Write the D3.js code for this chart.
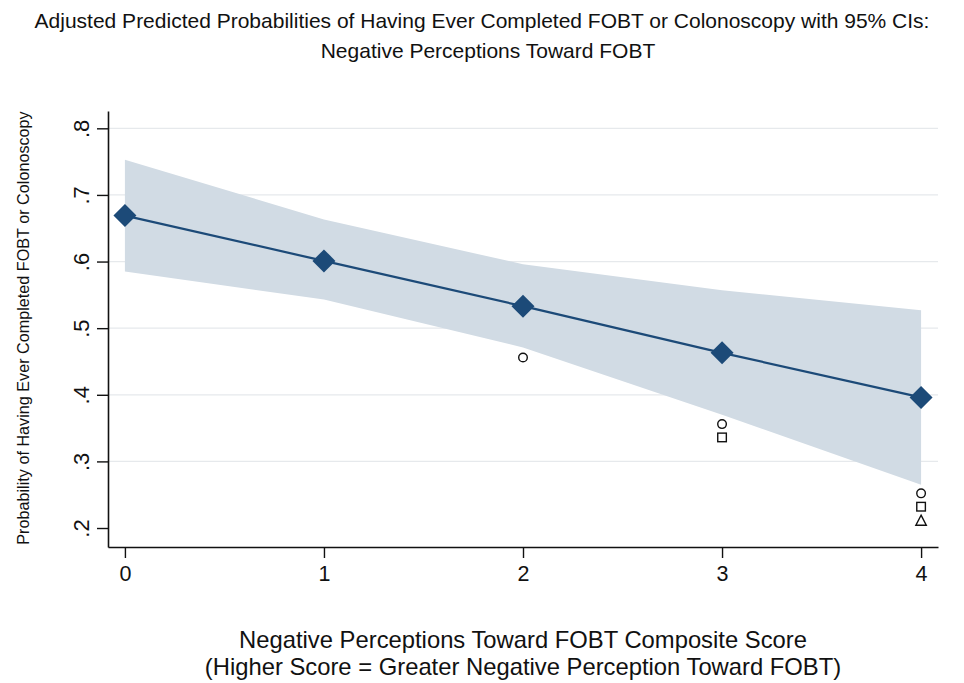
<!DOCTYPE html>
<html><head><meta charset="utf-8">
<script src="https://cdn.jsdelivr.net/npm/d3@7"></script>
<style>body{margin:0;background:#fff;} svg{display:block;font-family:"Liberation Sans",Arial,sans-serif;}</style>
</head><body>
<svg id="chart" width="964" height="683"></svg>
<script>
const scores = [0, 1, 2, 3, 4];
const predicted = [0.669, 0.601, 0.533, 0.463, 0.396];
const ciUpper = [0.753, 0.663, 0.596, 0.557, 0.527];
const ciLower = [0.585, 0.543, 0.471, 0.370, 0.265];
const obsCircle = [{x:2,y:0.456},{x:3,y:0.356},{x:4,y:0.252}];
const obsSquare = [{x:3,y:0.336},{x:4,y:0.232}];
const obsTriangle = [{x:4,y:0.211}];
const yTicks = [0.2, 0.3, 0.4, 0.5, 0.6, 0.7, 0.8];
const yTickLabels = [".2", ".3", ".4", ".5", ".6", ".7", ".8"];
const xTicks = [0, 1, 2, 3, 4];

(function(){
const svg = d3.select("#chart");
const pLeft = 108, pRight = 938, pTop = 111, pBottom = 547;
const x = d3.scaleLinear().domain([-0.085, 4.085]).range([pLeft, pRight]);
const y = d3.scaleLinear().domain([0.1715, 0.826]).range([pBottom, pTop]);

// gridlines
svg.append("g").selectAll("line").data(yTicks.filter(d => d > 0.2)).join("line")
  .attr("x1", pLeft).attr("x2", pRight)
  .attr("y1", d => y(d)).attr("y2", d => y(d))
  .attr("stroke", "#e6e9ec").attr("stroke-width", 1.2);

// CI band
const band = scores.map((s, i) => ({x: s, lo: ciLower[i], hi: ciUpper[i]}));
svg.append("path").datum(band)
  .attr("d", d3.area().x(d => x(d.x)).y0(d => y(d.lo)).y1(d => y(d.hi)))
  .attr("fill", "#d1dbe4");

// line
const pts = scores.map((s, i) => ({x: s, y: predicted[i]}));
svg.append("path").datum(pts)
  .attr("d", d3.line().x(d => x(d.x)).y(d => y(d.y)))
  .attr("fill", "none").attr("stroke", "#1c4a78").attr("stroke-width", 2.2);

// diamonds
svg.append("g").selectAll("path").data(pts).join("path")
  .attr("transform", d => `translate(${x(d.x)},${y(d.y)})`)
  .attr("d", "M0,-11.5L11.5,0L0,11.5L-11.5,0Z")
  .attr("fill", "#1c4a78");

// observed markers
svg.append("g").selectAll("circle").data(obsCircle).join("circle")
  .attr("cx", d => x(d.x)).attr("cy", d => y(d.y)).attr("r", 4.3)
  .attr("fill", "none").attr("stroke", "#111").attr("stroke-width", 1.4);
svg.append("g").selectAll("rect").data(obsSquare).join("rect")
  .attr("x", d => x(d.x) - 4.3).attr("y", d => y(d.y) - 4.3)
  .attr("width", 8.6).attr("height", 8.6)
  .attr("fill", "none").attr("stroke", "#111").attr("stroke-width", 1.4);
svg.append("g").selectAll("path").data(obsTriangle).join("path")
  .attr("transform", d => `translate(${x(d.x)},${y(d.y)})`)
  .attr("d", "M0,-5.5L5.2,4.5L-5.2,4.5Z")
  .attr("fill", "none").attr("stroke", "#111").attr("stroke-width", 1.4);

// axes
const yAxis = svg.append("g").attr("transform", `translate(${pLeft},0)`)
  .call(d3.axisLeft(y).tickValues(yTicks).tickFormat((d, i) => yTickLabels[i]).tickSize(11).tickSizeOuter(0));
yAxis.select(".domain").attr("stroke", "#111").attr("stroke-width", 1.6);
yAxis.selectAll(".tick line").attr("stroke", "#111").attr("stroke-width", 1.4);
yAxis.selectAll(".tick text")
  .attr("font-size", 22).attr("fill", "#111")
  .attr("x", 0).attr("dy", 0)
  .attr("text-anchor", "middle")
  .attr("transform", "translate(-19,0) rotate(-90)");

const xAxis = svg.append("g").attr("transform", `translate(0,${pBottom})`)
  .call(d3.axisBottom(x).tickValues(xTicks).tickFormat(d3.format("d")).tickSize(11).tickSizeOuter(0));
xAxis.select(".domain").attr("stroke", "#111").attr("stroke-width", 1.6);
xAxis.selectAll(".tick line").attr("stroke", "#111").attr("stroke-width", 1.4);
xAxis.selectAll(".tick text").attr("font-size", 21.5).attr("fill", "#111").attr("y", 34).attr("dy", 0);

// titles
const t = svg.append("g").attr("font-size", 21).attr("fill", "#111").attr("text-anchor", "middle");
t.append("text").attr("x", 482).attr("y", 28).text("Adjusted Predicted Probabilities of Having Ever Completed FOBT or Colonoscopy with 95% CIs:");
t.append("text").attr("x", 488).attr("y", 58).text("Negative Perceptions Toward FOBT");

const xt = svg.append("g").attr("font-size", 23.8).attr("fill", "#111").attr("text-anchor", "middle");
xt.append("text").attr("x", 523).attr("y", 648).text("Negative Perceptions Toward FOBT Composite Score");
xt.append("text").attr("x", 523).attr("y", 675).text("(Higher Score = Greater Negative Perception Toward FOBT)");

svg.append("text").attr("font-size", 16.2).attr("fill", "#111").attr("text-anchor", "middle")
  .attr("transform", "translate(29,328) rotate(-90)")
  .text("Probability of Having Ever Completed FOBT or Colonoscopy");
})();
</script>
</body></html>
